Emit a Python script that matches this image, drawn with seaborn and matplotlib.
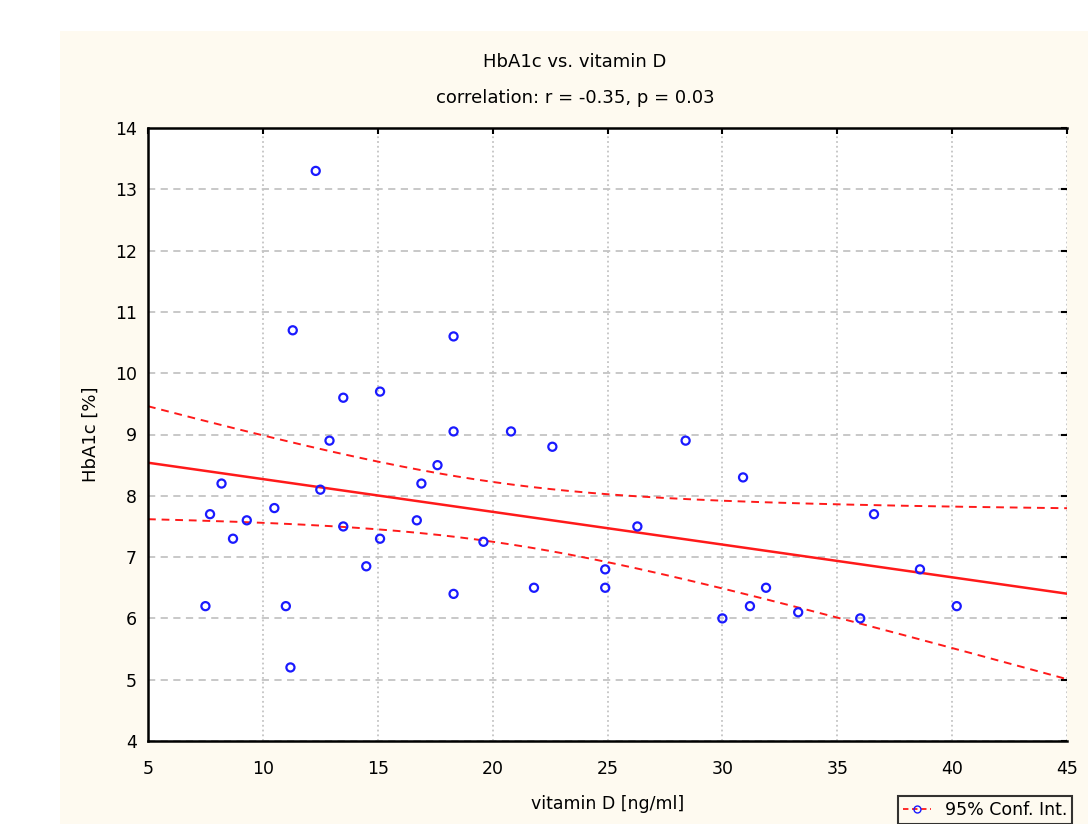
import numpy as np
import pandas as pd
import matplotlib
matplotlib.use("Agg")
import matplotlib.pyplot as plt
from matplotlib.patches import Rectangle
from matplotlib.lines import Line2D
import seaborn as sns

# valores
vitamina_d = [12.3, 11.3, 18.3, 15.1, 13.5, 12.9, 18.3, 20.8, 22.6, 28.4,
              17.6, 30.9, 8.2, 16.9, 12.5, 7.7, 9.3, 10.5, 13.5, 16.7,
              26.3, 36.6, 8.7, 15.1, 19.6, 14.5, 24.9, 38.6, 24.9, 21.8,
              18.3, 31.9, 31.2, 33.3, 7.5, 11.0, 30.0, 36.0, 40.2, 11.2]
hba1c = [13.3, 10.7, 10.6, 9.7, 9.6, 8.9, 9.05, 9.05, 8.8, 8.9,
         8.5, 8.3, 8.2, 8.2, 8.1, 7.7, 7.6, 7.8, 7.5, 7.6,
         7.5, 7.7, 7.3, 7.3, 7.25, 6.85, 6.8, 6.8, 6.5, 6.5,
         6.4, 6.5, 6.2, 6.1, 6.2, 6.2, 6.0, 6.0, 6.2, 5.2]
titulo = "HbA1c vs. vitamin D"
subtitulo = "correlation: r = -0.35, p = 0.03"
xticks = [5, 10, 15, 20, 25, 30, 35, 40, 45]
yticks = [4, 5, 6, 7, 8, 9, 10, 11, 12, 13, 14]
T_975 = 2.024  # t(0.975, gl=38)

COR_FUNDO = "#fefaf0"
AZUL = "#1a1aff"
VERMELHO = "#ff1a1a"


def ajustar_reta(x, y, grade):
    """Reta de regressão e limites de confiança de 95% para a média."""
    x = np.asarray(x)
    y = np.asarray(y)
    n = len(x)
    b, a = np.polyfit(x, y, 1)
    resid = y - (a + b * x)
    s = np.sqrt(np.sum(resid ** 2) / (n - 2))
    sxx = np.sum((x - x.mean()) ** 2)
    ajuste = a + b * grade
    se = s * np.sqrt(1 / n + (grade - x.mean()) ** 2 / sxx)
    return ajuste, ajuste - T_975 * se, ajuste + T_975 * se


def main() -> None:
    sns.set_theme(style="white")
    plt.rcParams['font.family'] = ['DejaVu Sans']
    plt.rcParams.update({"text.color": "black", "axes.labelcolor": "black",
                         "xtick.color": "black", "ytick.color": "black"})

    fig = plt.figure(figsize=(10.91, 8.24), dpi=100)
    fig.patch.set_facecolor("white")
    fig.patches.append(Rectangle((60 / 1091, 0), 1028 / 1091, 1 - 31 / 824,
                                 transform=fig.transFigure, facecolor=COR_FUNDO,
                                 edgecolor="none", zorder=-10))
    ax = fig.add_axes([148 / 1091, 1 - 741 / 824, 919 / 1091, 613 / 824])
    ax.set_facecolor("white")

    dados = pd.DataFrame({"vitamina_d": vitamina_d, "hba1c": hba1c})

    grade = np.linspace(5, 45, 200)
    ajuste, inferior, superior = ajustar_reta(vitamina_d, hba1c, grade)
    linhas = pd.DataFrame({"x": grade, "ajuste": ajuste,
                           "inferior": inferior, "superior": superior})

    sns.lineplot(data=linhas, x="x", y="ajuste", color=VERMELHO, lw=1.8, ax=ax)
    for col in ["inferior", "superior"]:
        sns.lineplot(data=linhas, x="x", y=col, color=VERMELHO, lw=1.4,
                     ax=ax, linestyle=(0, (4, 3)))
    sns.scatterplot(data=dados, x="vitamina_d", y="hba1c", marker="o", s=34,
                    facecolors="none", edgecolor=AZUL, linewidth=1.6, ax=ax,
                    zorder=5)

    ax.set_xlim(5, 45)
    ax.set_ylim(4, 14)
    ax.set_xticks(xticks)
    ax.set_yticks(yticks)
    ax.tick_params(direction="in", length=4, width=1.5, colors="black",
                   labelsize=12.5, top=True, right=True, pad=8)
    ax.tick_params(axis="x", pad=14)
    ax.xaxis.grid(True, color="#c4c4c4", linestyle=":", lw=1.3)
    ax.yaxis.grid(True, color="#c4c4c4", linestyle=(0, (4, 3)), lw=1.3)
    for lado in ["left", "bottom", "top"]:
        ax.spines[lado].set_color("black")
        ax.spines[lado].set_linewidth(1.8)
    ax.spines["right"].set_visible(False)

    ax.set_xlabel("vitamin D [ng/ml]", fontsize=12.5, labelpad=12)
    ax.set_ylabel("HbA1c [%]", fontsize=13, labelpad=11)

    fig.text(575 / 1091, 1 - 62 / 824, titulo, ha="center", va="center", fontsize=13)
    fig.text(575 / 1091, 1 - 98 / 824, subtitulo, ha="center", va="center", fontsize=13)

    alca = Line2D([], [], color=VERMELHO, linestyle=(0, (3, 2)), lw=1.3,
                  marker="o", markerfacecolor="none", markeredgecolor=AZUL,
                  markersize=5)
    leg = fig.legend([alca], ["95% Conf. Int."], loc="upper left",
                     bbox_to_anchor=(898 / 1091, 1 - 796 / 824), fontsize=12.5,
                     frameon=True, fancybox=False, handlelength=1.6,
                     borderaxespad=0, borderpad=0.3)
    leg.get_frame().set_edgecolor("black")
    leg.get_frame().set_linewidth(1.5)
    leg.get_frame().set_facecolor(COR_FUNDO)

    fig.savefig("out.png", dpi=100)


if __name__ == "__main__":
    main()
